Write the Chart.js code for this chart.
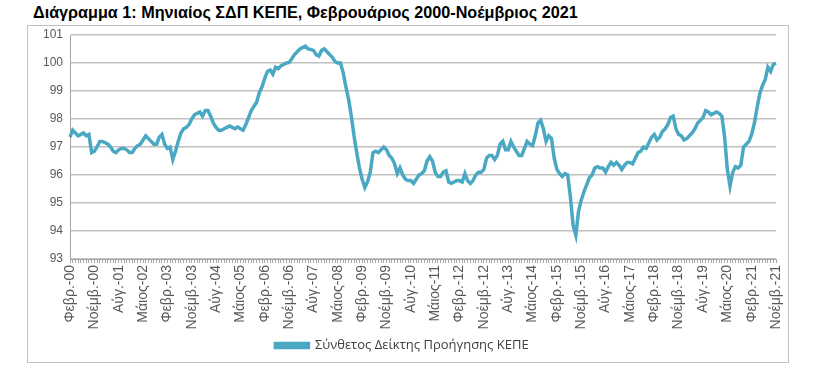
<!DOCTYPE html>
<html>
<head>
<meta charset="utf-8">
<script src="https://cdn.jsdelivr.net/npm/chart.js@4"></script>
<style>
  body { margin: 0; background: #fff; }
  #title { position: absolute; left: 33px; top: 3px; font: bold 16.2px "Liberation Sans", sans-serif; color: #000; white-space: nowrap; }
  #frame { position: absolute; left: 27px; top: 25px; width: 760px; height: 336px; border: 1px solid #bfbfbf; }
</style>
</head>
<body>
<div id="title">Διάγραμμα 1: Μηνιαίος ΣΔΠ ΚΕΠΕ, Φεβρουάριος 2000-Νοέμβριος 2021</div>
<div id="frame"><canvas id="kepeChart" width="760" height="336"></canvas></div>
<script>
    // month names used in the axis labels
    var monthNames = ['Ιαν.', 'Φεβρ.', 'Μάρτ.', 'Απρ.', 'Μάιος', 'Ιούν.', 'Ιούλ.', 'Αύγ.', 'Σεπτ.', 'Οκτ.', 'Νοέμβ.', 'Δεκ.'];
    var startYear = 2000;
    var startMonth = 1; // Feb
    var labelStep = 9;

    var seriesName = 'Σύνθετος Δείκτης Προήγησης ΚΕΠΕ';
    var yTicks = [93, 94, 95, 96, 97, 98, 99, 100, 101];

    // monthly index, Feb 2000 - Nov 2021
    var leadingIndex = [
        97.35, 97.6, 97.5, 97.4, 97.45, 97.5, 97.4, 97.45, 96.8, 96.85,
        97.0, 97.2, 97.2, 97.15, 97.1, 97.0, 96.85, 96.8, 96.9, 96.95,
        96.95, 96.9, 96.8, 96.8, 96.95, 97.05, 97.1, 97.25, 97.4, 97.3,
        97.2, 97.1, 97.1, 97.35, 97.45, 97.1, 96.95, 97.0, 96.55, 96.85,
        97.2, 97.5, 97.65, 97.7, 97.8, 98.0, 98.15, 98.2, 98.25, 98.1,
        98.3, 98.3, 98.1, 97.85, 97.7, 97.6, 97.6, 97.65, 97.7, 97.75,
        97.7, 97.65, 97.72, 97.65, 97.6, 97.8, 98.05, 98.3, 98.45, 98.6,
        98.95, 99.15, 99.45, 99.7, 99.75, 99.6, 99.85, 99.8, 99.9, 99.95,
        100.0, 100.02, 100.15, 100.3, 100.4, 100.5, 100.55, 100.6, 100.5, 100.48,
        100.45, 100.3, 100.25, 100.45, 100.5, 100.4, 100.3, 100.2, 100.05, 100.0,
        100.0, 99.65, 99.15, 98.7, 98.1, 97.4, 96.8, 96.25, 95.85, 95.55,
        95.75, 96.1, 96.8, 96.85, 96.8, 96.9, 97.0, 96.9, 96.7, 96.6,
        96.4, 96.05, 96.25, 96.0, 95.85, 95.8, 95.8, 95.7, 95.85, 96.0,
        96.05, 96.15, 96.5, 96.65, 96.5, 96.1, 95.95, 95.95, 96.1, 96.15,
        95.75, 95.7, 95.75, 95.8, 95.8, 95.75, 96.05, 95.8, 95.7, 95.8,
        96.0, 96.1, 96.1, 96.2, 96.6, 96.7, 96.7, 96.55, 96.7, 97.1,
        97.2, 96.9, 96.9, 97.2, 97.0, 96.85, 96.7, 96.7, 96.95, 97.2,
        97.1, 97.05, 97.4, 97.85, 97.95, 97.65, 97.2, 97.4, 97.3, 96.6,
        96.2, 96.05, 95.95, 96.05, 96.0, 95.2, 94.2, 93.85, 94.7, 95.1,
        95.4, 95.65, 95.9, 96.0, 96.25, 96.3, 96.25, 96.25, 96.1, 96.3,
        96.45, 96.35, 96.45, 96.35, 96.2, 96.35, 96.45, 96.45, 96.4, 96.6,
        96.8, 96.85, 97.0, 96.95, 97.15, 97.35, 97.45, 97.25, 97.35, 97.55,
        97.65, 97.8, 98.05, 98.1, 97.65, 97.45, 97.4, 97.25, 97.3, 97.4,
        97.5, 97.65, 97.85, 97.95, 98.05, 98.3, 98.25, 98.15, 98.2, 98.25,
        98.2, 98.1, 97.35, 96.2, 95.6, 96.1, 96.3, 96.25, 96.35, 97.0,
        97.1, 97.2, 97.45, 97.85, 98.4, 98.9, 99.2, 99.4, 99.85, 99.7,
        99.95, 100.0
    ];

    var labels = [];
    for (var i = 0; i < leadingIndex.length; i++) {
        var m = (startMonth + i) % 12;
        var y = startYear + Math.floor((startMonth + i) / 12);
        labels.push(monthNames[m] + '-' + String(y).slice(2));
    }

    var ctx = document.getElementById('kepeChart').getContext('2d');
    var kepeChart = new Chart(ctx, {
        type: 'line',
        data: {
            labels: labels,
            datasets: [{
                label: seriesName,
                data: leadingIndex,
                borderColor: '#4aa8c2',
                backgroundColor: '#4aa8c2',
                borderWidth: 3.5,
                pointRadius: 0,
                tension: 0
            }]
        },
        options: {
            responsive: false,
            animation: false,
            devicePixelRatio: 1,
            layout: { padding: { left: 0, right: 12, top: 9, bottom: 0 }, autoPadding: false },
            plugins: {
                legend: {
                    position: 'bottom',
                    labels: {
                        color: '#404040',
                        font: { family: 'Open Sans', size: 13 },
                        boxWidth: 33,
                        boxHeight: 4,
                        padding: 6
                    }
                },
                tooltip: { enabled: false }
            },
            scales: {
                x: {
                    offset: false,
                    grid: { drawOnChartArea: false, drawTicks: true, tickLength: 4, color: '#a6a6a6' },
                    border: { color: '#a6a6a6' },
                    ticks: {
                        autoSkip: false,
                        minRotation: 90,
                        maxRotation: 90,
                        padding: 2,
                        color: '#595959',
                        font: { family: 'Liberation Sans', size: 14 },
                        callback: function(value, index) {
                            return index % labelStep === 0 ? labels[index] : '';
                        }
                    },
                    afterFit: function(scale) {
                        scale.height = 74;
                        scale.paddingLeft = 0;
                        scale.paddingRight = 0;
                    }
                },
                y: {
                    min: yTicks[0],
                    max: yTicks[yTicks.length - 1],
                    grid: { color: '#c0c0c0', lineWidth: 1.5, drawTicks: false },
                    border: { color: '#a6a6a6' },
                    ticks: {
                        stepSize: 1,
                        padding: 7,
                        color: '#595959',
                        font: { family: 'Liberation Sans', size: 12 }
                    },
                    afterFit: function(scale) {
                        scale.width = 42;
                        scale.paddingTop = 0;
                        scale.paddingBottom = 0;
                    }
                }
            }
        }
    });
</script>
</body>
</html>
